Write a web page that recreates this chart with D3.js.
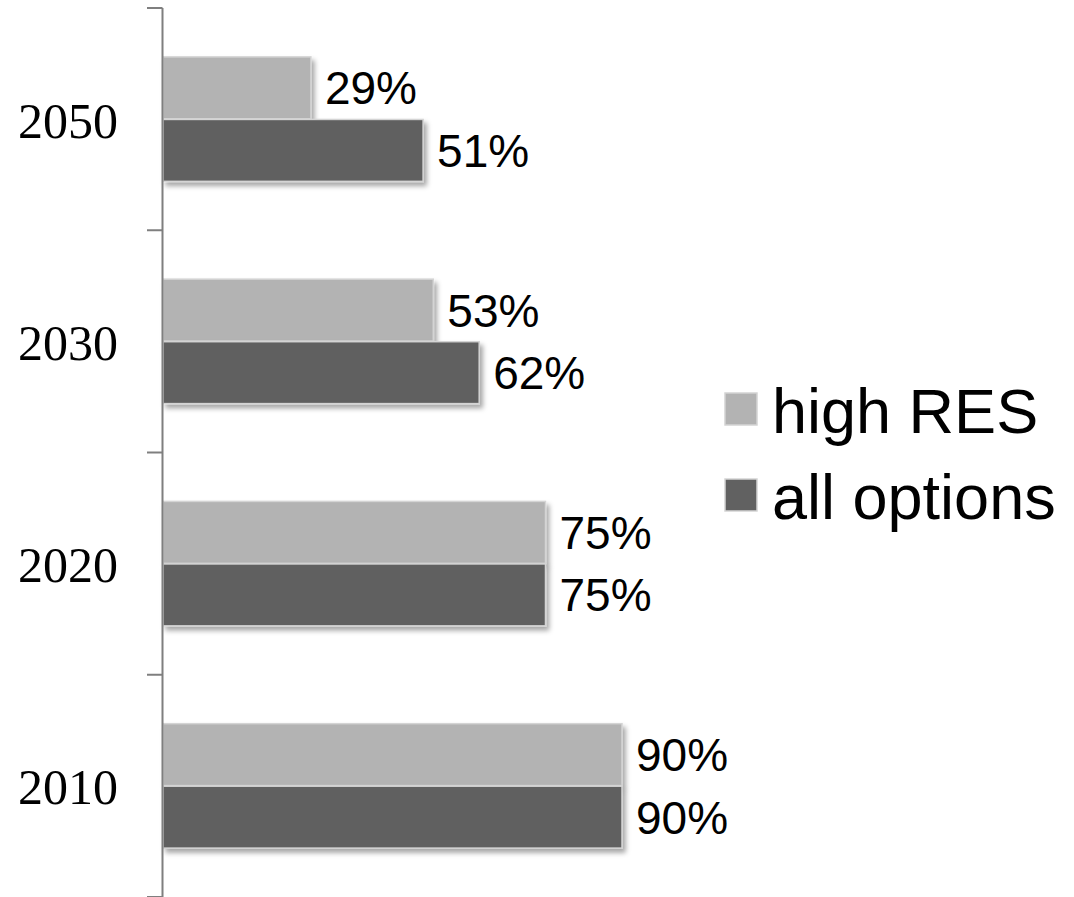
<!DOCTYPE html>
<html>
<head>
<meta charset="utf-8">
<script src="https://cdn.jsdelivr.net/npm/d3@7"></script>
<style>
  html, body { margin: 0; padding: 0; background: #fff; }
  svg { display: block; }
</style>
</head>
<body>
<svg id="chart" width="1074" height="897"></svg>
<script>
// Years shown on the vertical axis (bottom to top)
const years = ["2010", "2020", "2030", "2050"];
// Share per scenario, in percent
const highRES = [90, 75, 53, 29];
const allOptions = [90, 75, 62, 51];
const seriesNames = ["high RES", "all options"];
const seriesColors = ["#b3b3b3", "#616161"];

const rows = years.map((y, i) => ({ year: y, values: [highRES[i], allOptions[i]] }));

const svg = d3.select("#chart");
const W = 1074, H = 897;
const axisX = 163;

// Soft shadow under each bar
const defs = svg.append("defs");
const f = defs.append("filter").attr("id", "shadow")
  .attr("x", "-5%").attr("y", "-20%").attr("width", "115%").attr("height", "150%");
f.append("feDropShadow").attr("dx", 3).attr("dy", 4).attr("stdDeviation", 2.5)
  .attr("flood-color", "#000").attr("flood-opacity", 0.35);

const x = d3.scaleLinear().domain([0, 100]).range([axisX, axisX + 510]);
const y = d3.scaleBand().domain(years.slice().reverse()).range([8, 897]).padding(0);
const groupH = y.bandwidth() * 0.56;
const sub = d3.scaleBand().domain([0, 1]).range([0, groupH]).paddingInner(0.01);

// Bars
const g = svg.append("g");
const groups = g.selectAll("g.year").data(rows).join("g")
  .attr("class", "year")
  .attr("transform", d => `translate(0,${y(d.year) + (y.bandwidth() - groupH) / 2})`);

groups.selectAll("rect").data(d => d.values).join("rect")
  .attr("x", x(0))
  .attr("y", (d, i) => sub(i))
  .attr("width", d => x(d) - x(0))
  .attr("height", sub.bandwidth())
  .attr("fill", (d, i) => seriesColors[i])
  .attr("stroke", "#d4d4d4")
  .attr("stroke-width", 1.5)
  .attr("filter", "url(#shadow)");

groups.selectAll("text").data(d => d.values).join("text")
  .attr("x", d => x(d) + 14)
  .attr("y", (d, i) => sub(i) + sub.bandwidth() / 2)
  .attr("dy", "0.36em")
  .attr("font-family", "Liberation Sans, Arial, sans-serif")
  .attr("font-size", 46)
  .attr("fill", "#000")
  .text(d => d + "%");

// Vertical axis with ticks at category boundaries
const axisG = svg.append("g");
axisG.append("line")
  .attr("x1", axisX - 0.5).attr("x2", axisX - 0.5)
  .attr("y1", y.range()[0]).attr("y2", y.range()[1])
  .attr("stroke", "#7f7f7f").attr("stroke-width", 2);
const boundaries = years.slice().reverse().map(v => y(v)).concat([y.range()[1]]);
axisG.selectAll("line.tick").data(boundaries).join("line")
  .attr("class", "tick")
  .attr("x1", axisX - 16).attr("x2", axisX - 0.5)
  .attr("y1", d => d).attr("y2", d => d)
  .attr("stroke", "#7f7f7f").attr("stroke-width", 2);
axisG.selectAll("text").data(years).join("text")
  .attr("x", 118)
  .attr("y", d => y(d) + y.bandwidth() / 2 + 1)
  .attr("dy", "0.35em")
  .attr("text-anchor", "end")
  .attr("font-family", "Liberation Serif, Times New Roman, serif")
  .attr("font-size", 50)
  .attr("fill", "#000")
  .text(d => d);

// Legend
const legend = svg.append("g").attr("transform", "translate(725,393)");
const li = legend.selectAll("g").data(seriesNames).join("g")
  .attr("transform", (d, i) => `translate(0,${i * 86})`);
li.append("rect")
  .attr("width", 32).attr("height", 32)
  .attr("fill", (d, i) => seriesColors[i])
  .attr("stroke", "#d4d4d4").attr("stroke-width", 1.5);
li.append("text")
  .attr("x", 47).attr("y", 40)
  .attr("font-family", "Liberation Sans, Arial, sans-serif")
  .attr("font-size", 63)
  .attr("fill", "#000")
  .text(d => d);
</script>
</body>
</html>
